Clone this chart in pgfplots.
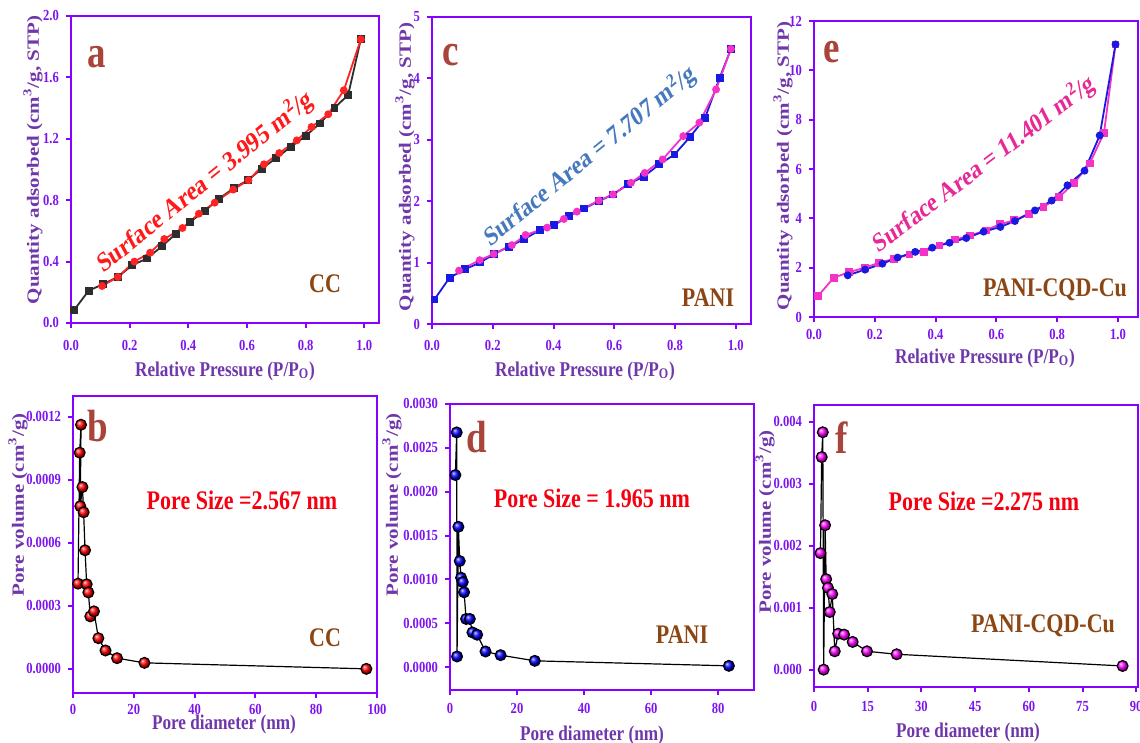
\documentclass[border=0pt]{standalone}
\usepackage{fontspec}
\setmainfont{Liberation Serif}
\usepackage{pgfplots}
\pgfplotsset{compat=1.18}

\definecolor{framec}{RGB}{136,0,255}
\definecolor{ticklab}{RGB}{125,20,240}
\definecolor{labcol}{RGB}{112,55,170}
\definecolor{letcol}{RGB}{168,68,58}
\definecolor{namecol}{RGB}{140,70,20}
\definecolor{srfred}{RGB}{255,25,25}
\definecolor{srfblue}{RGB}{70,120,190}
\definecolor{srfmag}{RGB}{232,40,150}
\definecolor{porered}{RGB}{245,0,15}
\definecolor{darkser}{RGB}{45,45,45}
\definecolor{serred}{RGB}{255,35,35}
\definecolor{serblue}{RGB}{25,25,225}
\definecolor{sermag}{RGB}{245,50,200}

\pgfplotsset{
  myaxis/.style={
    scale only axis,
    anchor=south west,
    axis line style={framec, line width=1.4pt},
    tick style={framec, line width=1pt},
    major tick length=2.5pt,
    tick align=outside,
    xtick pos=left, ytick pos=left,
    tick label style={font=\fontsize{6.3}{7}\selectfont\bfseries, text=ticklab, yscale=1.22},
    /pgf/number format/assume math mode=true,
    clip=false,
  },
  iso/.style={line width=0.9pt, mark size=1.5pt},
  pore/.style={black, line width=0.6pt, mark=ball, mark size=2.7pt},
}

\newcommand{\ylab}[3]{\node[yscale=1.22, rotate=90, font=\fontsize{8.6}{10}\selectfont\bfseries, text=labcol] at (#1pt,#2pt) {#3};}
\newcommand{\xlab}[3]{\node[yscale=1.22, font=\fontsize{8.6}{10}\selectfont\bfseries, text=labcol] at (#1pt,#2pt) {#3};}
\newcommand{\plet}[3]{\node[yscale=1.22, font=\fontsize{18.5}{20}\selectfont\bfseries, text=letcol] at (#1pt,#2pt) {#3};}
\newcommand{\pname}[3]{\node[yscale=1.22, font=\fontsize{11}{13}\selectfont\bfseries, text=namecol] at (#1pt,#2pt) {#3};}
\newcommand{\psize}[3]{\node[yscale=1.22, font=\fontsize{11}{13}\selectfont\bfseries, text=porered] at (#1pt,#2pt) {#3};}

\begin{document}
\begin{tikzpicture}
\useasboundingbox (0,0) rectangle (570pt,371.5pt);

% ---------- a ----------
\begin{axis}[myaxis, at={(35.5pt,210pt)}, width=154pt, height=153.5pt,
  xmin=0, xmax=1.05, ymin=0, ymax=2.0,
  xtick={0,0.2,0.4,0.6,0.8,1.0}, xticklabels={0.0,0.2,0.4,0.6,0.8,1.0},
  ytick={0,0.4,0.8,1.2,1.6,2.0}, yticklabels={0.0,0.4,0.8,1.2,1.6,2.0},
  xticklabel shift=1.7pt]
\addplot[iso, darkser, mark=square*] coordinates {
(0.010,0.083) (0.06,0.21) (0.11,0.254) (0.16,0.30) (0.208,0.376) (0.259,0.42)
(0.31,0.50) (0.357,0.58) (0.407,0.66) (0.456,0.73) (0.505,0.81) (0.556,0.88)
(0.603,0.93) (0.65,1.005) (0.70,1.075) (0.749,1.147) (0.80,1.218) (0.848,1.30)
(0.898,1.40) (0.945,1.487) (0.988,1.848)};
\addplot[iso, serred, mark=*] coordinates {
(0.988,1.848) (0.93,1.516) (0.877,1.36) (0.82,1.277) (0.77,1.19) (0.71,1.107)
(0.658,1.034) (0.605,0.93) (0.553,0.869) (0.49,0.784) (0.436,0.712) (0.38,0.619)
(0.318,0.547) (0.27,0.458) (0.216,0.40) (0.16,0.30) (0.106,0.241)};
\end{axis}

% ---------- c ----------
\begin{axis}[myaxis, at={(216pt,209.5pt)}, width=159.5pt, height=153.5pt,
  xmin=0, xmax=1.05, ymin=0, ymax=5,
  xtick={0,0.2,0.4,0.6,0.8,1.0}, xticklabels={0.0,0.2,0.4,0.6,0.8,1.0},
  ytick={0,1,2,3,4,5}, yticklabels={0,1,2,3,4,5},
  xticklabel shift=1.3pt]
\addplot[iso, serblue, mark=square*] coordinates {
(0.008,0.40) (0.058,0.754) (0.108,0.89) (0.158,1.00) (0.205,1.14) (0.253,1.26)
(0.303,1.38) (0.355,1.53) (0.402,1.61) (0.451,1.76) (0.50,1.88) (0.549,2.00)
(0.596,2.11) (0.646,2.28) (0.697,2.40) (0.748,2.60) (0.798,2.76) (0.85,3.05)
(0.899,3.36) (0.947,4.01) (0.984,4.48)};
\addplot[iso, sermag, mark=*] coordinates {
(0.984,4.48) (0.935,3.82) (0.88,3.28) (0.827,3.06) (0.759,2.68) (0.70,2.46)
(0.655,2.30) (0.596,2.11) (0.549,2.01) (0.477,1.83) (0.434,1.71) (0.379,1.57)
(0.308,1.45) (0.263,1.285) (0.203,1.14) (0.157,1.04) (0.089,0.87)};
\end{axis}

% ---------- e ----------
\begin{axis}[myaxis, at={(407pt,213pt)}, width=162pt, height=148pt,
  xmin=0, xmax=1.066, ymin=0, ymax=12,
  xtick={0,0.2,0.4,0.6,0.8,1.0}, xticklabels={0.0,0.2,0.4,0.6,0.8,1.0},
  ytick={0,2,4,6,8,10,12}, yticklabels={0,2,4,6,8,10,12},
  xticklabel shift=-0.7pt]
\addplot[iso, sermag, mark=square*] coordinates {
(0.013,0.85) (0.065,1.59) (0.115,1.82) (0.168,2.00) (0.214,2.20) (0.264,2.36)
(0.314,2.53) (0.363,2.64) (0.413,2.90) (0.464,3.14) (0.512,3.30) (0.565,3.51)
(0.611,3.76) (0.659,3.92) (0.707,4.19) (0.755,4.46) (0.806,4.86) (0.856,5.43)
(0.907,6.22) (0.954,7.46) (0.992,11.05)};
\addplot[iso, serblue, mark=*] coordinates {
(0.992,11.05) (0.94,7.36) (0.89,5.93) (0.834,5.34) (0.782,4.72) (0.727,4.32)
(0.661,3.89) (0.613,3.65) (0.558,3.46) (0.501,3.20) (0.446,3.01) (0.389,2.81)
(0.333,2.64) (0.275,2.41) (0.225,2.16) (0.168,1.92) (0.111,1.69)};
\end{axis}

% ---------- b ----------
\begin{axis}[myaxis, at={(36.5pt,25pt)}, width=152pt, height=148.5pt,
  xmin=0, xmax=100, ymin=-0.000115, ymax=0.0013,
  xtick={0,20,40,60,80,100}, xticklabels={0,20,40,60,80,100},
  ytick={0,0.0003,0.0006,0.0009,0.0012},
  yticklabels={0.0000,0.0003,0.0006,0.0009,0.0012},
  scaled y ticks=false, xticklabel shift=-1.4pt]
\addplot[pore, mark options={ball color=red}] coordinates {
(1.65,0.000406) (2.2,0.00103) (2.64,0.001163) (2.4,0.000775) (3.1,0.000866)
(3.5,0.000746) (3.96,0.000565) (4.5,0.000403) (5.05,0.000364) (5.7,0.00025)
(6.9,0.000274) (8.35,0.000146) (10.7,0.0000875) (14.5,0.0000509)
(23.5,0.0000286) (96.5,0.0)};
\end{axis}

% ---------- d ----------
\begin{axis}[myaxis, at={(225pt,26.5pt)}, width=152pt, height=143pt,
  xmin=0, xmax=90.7, ymin=-0.00026, ymax=0.0030,
  xtick={0,20,40,60,80}, xticklabels={0,20,40,60,80},
  ytick={0,0.0005,0.0010,0.0015,0.0020,0.0025,0.0030},
  yticklabels={0.0000,0.0005,0.0010,0.0015,0.0020,0.0025,0.0030},
  scaled y ticks=false, xticklabel shift=-0.3pt]
\addplot[pore, mark options={ball color=blue}] coordinates {
(1.6,0.00219) (2.0,0.002676) (2.1,0.000122) (2.5,0.0016) (2.9,0.00121)
(3.3,0.00102) (3.8,0.00097) (4.2,0.000854) (4.8,0.00055) (5.9,0.00055)
(6.7,0.000396) (8.1,0.00037) (10.6,0.000179) (15.1,0.000137)
(25.3,0.0000724) (83.2,0.0000152)};
\end{axis}

% ---------- f ----------
\begin{axis}[myaxis, at={(407pt,28pt)}, width=162pt, height=141pt,
  xmin=0, xmax=90.5, ymin=-0.00028, ymax=0.00427,
  xtick={0,15,30,45,60,75,90}, xticklabels={0,15,30,45,60,75,90},
  ytick={0,0.001,0.002,0.003,0.004},
  yticklabels={0.000,0.001,0.002,0.003,0.004},
  scaled y ticks=false, xticklabel shift=0.2pt]
\addplot[pore, mark options={ball color=magenta}] coordinates {
(1.8,0.00188) (2.15,0.00343) (2.45,0.00383) (2.7,0.0) (3.1,0.00233)
(3.4,0.00146) (3.9,0.00132) (4.4,0.00093) (5.1,0.00122) (5.8,0.000296)
(6.75,0.00058) (8.4,0.000565) (10.8,0.000447) (14.8,0.000296)
(23.1,0.000248) (86.2,0.0000592)};
\end{axis}

% ---------- texts ----------
\ylab{16.5}{291.5}{Quantity adsorbed (cm\textsuperscript{3}/g, STP)}
\ylab{202.5}{288}{Quantity adsorbed (cm\textsuperscript{3}/g, STP)}
\ylab{391.5}{288.5}{Quantity adsorbed (cm\textsuperscript{3}/g, STP)}
\ylab{9}{119}{Pore volume (cm\textsuperscript{3}/g)}
\ylab{196}{119}{Pore volume (cm\textsuperscript{3}/g)}
\ylab{382.5}{110.5}{Pore volume (cm\textsuperscript{3}/g)}

\xlab{112.5}{186}{Relative Pressure (P/P\textsubscript{O})}
\xlab{292.5}{186}{Relative Pressure (P/P\textsubscript{O})}
\xlab{492.5}{192.5}{Relative Pressure (P/P\textsubscript{O})}
\xlab{112}{9.5}{Pore diameter (nm)}
\xlab{296}{4}{Pore diameter (nm)}
\xlab{484}{5.5}{Pore diameter (nm)}

\plet{48.5}{343}{a}
\plet{225.5}{344}{c}
\plet{416}{345.5}{e}
\plet{49}{158.5}{b}
\plet{238.5}{153}{d}
\plet{421}{152.5}{f}

\pname{162.5}{229.5}{CC}
\pname{354}{222.5}{PANI}
\pname{527.5}{226.5}{PANI-CQD-Cu}
\pname{162.5}{52.5}{CC}
\pname{341}{54}{PANI}
\pname{521.5}{58.5}{PANI-CQD-Cu}

\psize{121}{121.5}{Pore Size =2.567 nm}
\psize{296}{122.5}{Pore Size = 1.965 nm}
\psize{492}{121}{Pore Size =2.275 nm}

\node[yscale=1.22, rotate=33.5, font=\fontsize{11.3}{13}\selectfont\bfseries, text=srfred] at (102.5pt,280.5pt) {Surface Area = 3.995 m\textsuperscript{2}/g};
\node[yscale=1.22, rotate=33.8, font=\fontsize{11.1}{13}\selectfont\bfseries, text=srfblue] at (295pt,293.5pt) {Surface Area = 7.707 m\textsuperscript{2}/g};
\node[yscale=1.22, rotate=31.8, font=\fontsize{11}{13}\selectfont\bfseries, text=srfmag] at (492pt,289.5pt) {Surface Area = 11.401 m\textsuperscript{2}/g};
\end{tikzpicture}
\end{document}
